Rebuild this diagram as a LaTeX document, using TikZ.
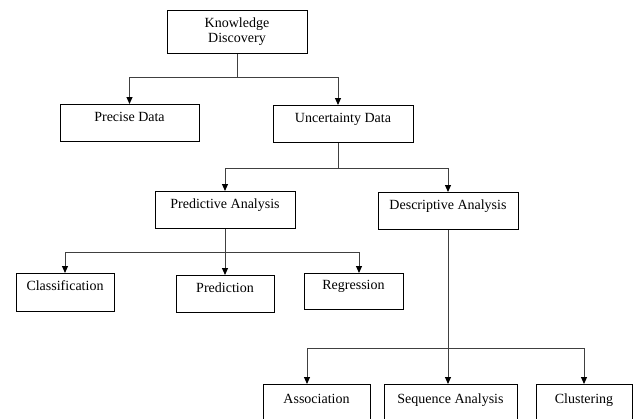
\documentclass[tikz,border=0pt]{standalone}
\usepackage{fontspec}
\setmainfont{Liberation Serif}
\usetikzlibrary{arrows.meta}

\begin{document}
\begin{tikzpicture}[x=1pt,y=-1pt,>={Triangle[length=7pt,width=6pt,color=black]},font=\fontsize{14}{15}\selectfont]
        \tikzstyle{box}=[rectangle,draw,line width=1pt,inner sep=0pt,anchor=north,text height=17pt,text depth=20pt]
        \tikzstyle{link}=[line width=1pt,draw=black!75]
        \useasboundingbox (0,0) rectangle (636,418);
        \clip (0,0) rectangle (636,418);
          % top
          \node (kd) at (237,10) [box,text height=,text depth=,minimum width=140pt,minimum height=43pt,align=center] {Knowledge\\Discovery};
          % second level
          \node (precise) at (129.5,104) [box,minimum width=139pt] {Precise Data};
          \node (unc) at (343,105) [box,minimum width=140pt] {Uncertainty Data};
          % third level
          \node (pred) at (225,191) [box,minimum width=140pt] {Predictive Analysis};
          \node (desc) at (448,192) [box,minimum width=140pt] {Descriptive Analysis};
          % leaves
          \node (class) at (65,273) [box,minimum width=98pt,text depth=21pt] {Classification};
          \node (predn) at (225,275) [box,minimum width=98pt] {Prediction};
          \node (regr) at (353.5,273) [box,minimum width=99pt,text height=16pt] {Regression};
          \node (assoc) at (316.5,384) [box,minimum width=107pt,text height=19pt] {Association};
          \node (seq) at (450.5,384) [box,minimum width=133pt,text height=19pt] {Sequence Analysis};
          \node (clust) at (584,384) [box,minimum width=96pt,text height=19pt] {Clustering};
          % connectors
          \draw [link,->] (kd.south) -- ++(0,23) -| (precise.north);
          \draw [link,->] (kd.south) -- ++(0,23) -| ([xshift=-5pt]unc.north);
          \draw [link,->] ([xshift=-5pt]unc.south) -- ++(0,25) -| (pred.north);
          \draw [link,->] ([xshift=-5pt]unc.south) -- ++(0,25) -| (desc.north);
          \draw [link,->] (pred.south) -- ++(0,23) -| (class.north);
          \draw [link,->] (pred.south) -- (predn.north);
          \draw [link,->] (pred.south) -- ++(0,23) -| ([xshift=5.5pt]regr.north);
          \draw [link,->] (desc.south) -- ++(0,118) -| ([xshift=-9.5pt]assoc.north);
          \draw [link,->] (desc.south) -- (desc.south |- seq.north);
          \draw [link,->] (desc.south) -- ++(0,118) -| (clust.north);
      \end{tikzpicture}
\end{document}
